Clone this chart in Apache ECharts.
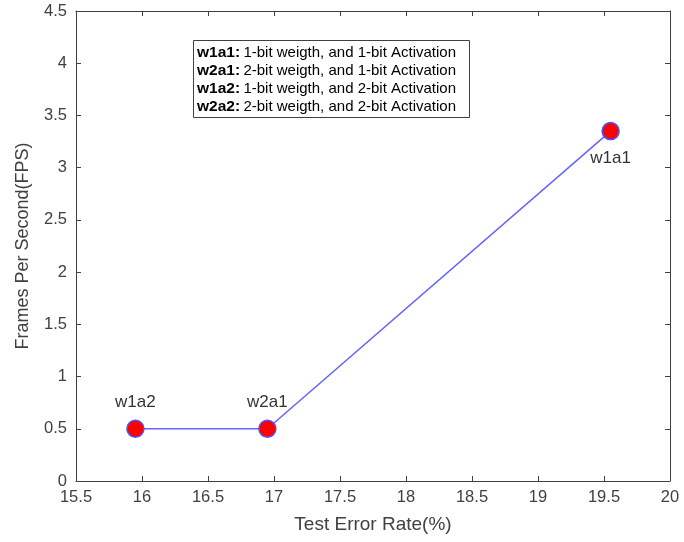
<!DOCTYPE html>
<html>
<head>
<meta charset="utf-8">
<script src="https://cdn.jsdelivr.net/npm/echarts@6/dist/echarts.min.js"></script>
<style>
  html, body { margin: 0; padding: 0; background: #fff; }
  #chart { width: 684px; height: 542px; }
</style>
</head>
<body>
<div id="chart"></div>
<script>
// data
const names = ['w1a2', 'w2a1', 'w1a1'];
const errorRate = [15.95, 16.95, 19.55];
const fps = [0.5, 0.5, 3.35];
const labelPos = ['top', 'top', 'bottom'];

const noteKeys = ['w1a1:', 'w2a1:', 'w1a2:', 'w2a2:'];
const noteTexts = [
  '1-bit weigth, and 1-bit Activation',
  '2-bit weigth, and 1-bit Activation',
  '1-bit weigth, and 2-bit Activation',
  '2-bit weigth, and 2-bit Activation'
];

const chart = echarts.init(document.getElementById('chart'));
const font = 'Liberation Sans, Arial, sans-serif';
const axisCol = '#404040';

let tickCommon = {
  axisLine: { show: true, onZero: false, lineStyle: { color: axisCol, width: 1 } },
  axisTick: { show: true, inside: true, length: 5, lineStyle: { color: axisCol } },
  splitLine: { show: false }
};

let pts = errorRate.map((x, i) => ({
  value: [x, fps[i]],
  name: names[i],
  label: { position: labelPos[i] }
}));

let noteLines = noteKeys.map((k, i) => '{b|' + k + '} {t|' + noteTexts[i] + '}').join('\n');

let option = {
  animation: false,
  grid: { left: 76, right: 14, top: 11, bottom: 61, containLabel: false },
  xAxis: [
    Object.assign({
      type: 'value', min: 15.5, max: 20, interval: 0.5,
      name: 'Test Error Rate(%)', nameLocation: 'middle', nameGap: 34,
      nameTextStyle: { fontFamily: font, fontSize: 19, color: axisCol },
      axisLabel: { fontFamily: font, fontSize: 16.5, color: axisCol, margin: 8 }
    }, tickCommon),
    Object.assign({
      type: 'value', min: 15.5, max: 20, interval: 0.5, position: 'top',
      axisLabel: { show: false }
    }, tickCommon)
  ],
  yAxis: [
    Object.assign({
      type: 'value', min: 0, max: 4.5, interval: 0.5,
      name: 'Frames Per Second(FPS)', nameLocation: 'middle', nameGap: 44,
      nameTextStyle: { fontFamily: font, fontSize: 18, color: axisCol },
      axisLabel: { fontFamily: font, fontSize: 16.5, color: axisCol, margin: 9 }
    }, tickCommon),
    Object.assign({
      type: 'value', min: 0, max: 4.5, interval: 0.5, position: 'right',
      axisLabel: { show: false }
    }, tickCommon)
  ],
  series: [
    {
      type: 'line',
      data: pts,
      symbol: 'circle',
      symbolSize: 17,
      lineStyle: { color: '#6464ff', width: 1.5 },
      itemStyle: { color: '#ff0000', borderColor: '#5050ff', borderWidth: 1.5 },
      label: {
        show: true,
        formatter: p => p.name,
        fontFamily: font, fontSize: 17, color: '#333',
        distance: 9
      },
      z: 5
    }
  ],
  graphic: [
    {
      type: 'rect',
      left: 193, top: 40,
      shape: { width: 276, height: 77 },
      style: { fill: '#fff', stroke: '#404040', lineWidth: 1 }
    },
    {
      type: 'text',
      left: 197, top: 44,
      style: {
        text: noteLines,
        fontFamily: font,
        lineHeight: 18,
        rich: {
          b: { fontFamily: font, fontSize: 15.5, fontWeight: 'bold', color: '#1a1a1a', lineHeight: 18 },
          t: { fontFamily: font, fontSize: 15, color: '#222', lineHeight: 18 }
        }
      }
    }
  ]
};
chart.setOption(option);
</script>
</body>
</html>
